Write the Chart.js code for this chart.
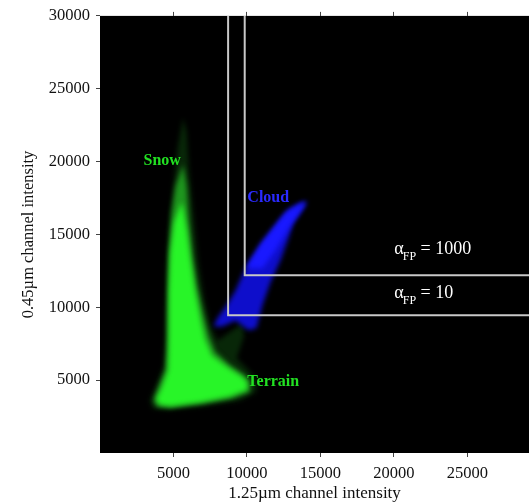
<!DOCTYPE html>
<html>
<head>
<meta charset="utf-8">
<script src="https://cdn.jsdelivr.net/npm/chart.js@4.4.0/dist/chart.umd.min.js"></script>
<style>
  html, body { margin: 0; padding: 0; background: #fff; }
  #wrap { width: 529px; height: 502px; }
</style>
</head>
<body>
<div id="wrap"><canvas id="myChart"></canvas></div>
<script>
// tick labels
var xTicks = [5000, 10000, 15000, 20000, 25000];
var yTicks = [5000, 10000, 15000, 20000, 25000, 30000];

// density outlines, [1.25um, 0.45um]
var snowHalo = [[5650,23000],[5300,21000],[4950,18000],[4650,15000],[4500,12000],[4450,8000],[4350,6000],[3800,4600],[3400,3600],[3600,3050],[4600,2950],[7000,3200],[9500,3600],[10600,4150],[10700,4900],[10200,5600],[9300,6500],[9800,8000],[9700,8900],[9000,8400],[8000,7700],[7500,8800],[7100,10500],[6700,13000],[6400,16000],[6050,19500],[5900,22000],[5650,23000]];
var snowMid = [[5650,19800],[5150,18300],[4880,16500],[4680,13500],[4600,10000],[4550,7000],[4450,5700],[3900,4300],[3650,3600],[3900,3200],[4800,3100],[7000,3400],[9000,3750],[10200,4200],[10200,4950],[9800,5350],[8800,6050],[7850,6950],[7400,8100],[7000,9700],[6600,11500],[6300,13500],[6050,16000],[5900,18300],[5650,19800]];
var snowCore = [[5550,17200],[5050,15800],[4800,13800],[4700,11000],[4700,8000],[4650,5700],[4200,4450],[3850,3700],[4050,3350],[4800,3250],[6800,3500],[8800,3900],[10000,4350],[10000,4850],[9700,5200],[8700,5850],[7600,6700],[7150,7750],[6850,9100],[6450,11200],[6150,13300],[5900,15300],[5650,16800],[5550,17200]];
var cloudOuter = [[14050,17320],[13370,17040],[12820,16700],[12140,15810],[11260,14580],[10370,13350],[9760,12390],[9220,11160],[8610,10130],[7990,9240],[7720,8690],[8330,8690],[9220,9100],[10100,8420],[10650,8560],[11050,10130],[11600,11700],[12280,13210],[12820,14720],[13160,15810],[13640,16500],[14050,17180],[14050,17320]];
var cloudCore = [[13910,17250],[12620,16500],[10920,14380],[9900,12670],[11050,12670],[11940,13900],[12960,15610],[13910,16980],[13910,17250]];

// threshold boxes
var box10 = [[8720,30000],[8720,9450],[29200,9450]];
var box1000 = [[9850,30000],[9850,12200],[29200,12200]];

// text labels [text, x, y, colour]
var regionLabels = [["Snow", 2960, 20050, "#22e022"], ["Cloud", 10030, 17520, "#2a2aff"], ["Terrain", 10030, 4860, "#22e022"]];
var alphaLabels = [["1000", 20030, 13960], ["10", 20030, 10950]];

function pts(a) { return a.map(function (p) { return { x: p[0], y: p[1] }; }); }

function shape(data, color, order) {
  return {
    data: pts(data), showLine: true, pointRadius: 0, tension: 0,
    borderWidth: 0, borderColor: 'transparent', backgroundColor: color,
    fill: 'shape', order: order, blur: true
  };
}
function boxLine(data) {
  return {
    data: pts(data), showLine: true, pointRadius: 0, tension: 0,
    borderWidth: 2, borderColor: '#c8c8c8', fill: false, order: 1
  };
}

var serif = "'Liberation Serif', 'DejaVu Serif', serif";
var plain = function (v) { return String(v); };

var plotLook = {
  id: 'plotLook',
  beforeDraw: function (chart) {
    var a = chart.chartArea, ctx = chart.ctx;
    ctx.save();
    ctx.fillStyle = '#000';
    ctx.fillRect(a.left, a.top, a.right - a.left, a.bottom - a.top);
    ctx.restore();
  },
  beforeDatasetsDraw: function (chart) {
    chart.ctx.filter = 'blur(2.5px)';
  },
  beforeDatasetDraw: function (chart, args) {
    var ds = chart.data.datasets[args.index];
    if (!ds.blur) chart.ctx.filter = 'none';
  },
  afterDatasetsDraw: function (chart) {
    var ctx = chart.ctx, xs = chart.scales.x, ys = chart.scales.y;
    ctx.filter = 'none';
    ctx.save();
    ctx.textBaseline = 'middle';
    ctx.textAlign = 'left';
    regionLabels.forEach(function (l) {
      ctx.font = 'bold 16px ' + serif;
      ctx.fillStyle = l[3];
      ctx.fillText(l[0], xs.getPixelForValue(l[1]), ys.getPixelForValue(l[2]));
    });
    alphaLabels.forEach(function (l) {
      var x = xs.getPixelForValue(l[1]), y = ys.getPixelForValue(l[2]);
      ctx.fillStyle = '#fff';
      ctx.font = '18px ' + serif;
      ctx.fillText('\u03b1', x, y);
      x += ctx.measureText('\u03b1').width;
      ctx.font = '12px ' + serif;
      ctx.fillText('FP', x - 1, y + 7);
      x += ctx.measureText('FP').width - 1;
      ctx.font = '18px ' + serif;
      ctx.fillText(' = ' + l[0], x, y);
    });
    ctx.restore();
  }
};

var ctx = document.getElementById('myChart');

var myChart = new Chart(ctx, {
  type: 'scatter',
  data: {
    datasets: [
      boxLine(box10),
      boxLine(box1000),
      shape(snowHalo, 'rgba(25,120,25,0.32)', 10),
      shape(snowMid, 'rgb(30,150,30)', 9),
      shape(snowCore, 'rgb(40,245,40)', 8),
      shape(cloudOuter, 'rgba(15,15,220,0.92)', 7),
      shape(cloudCore, 'rgb(25,25,255)', 6)
    ]
  },
  plugins: [plotLook],
  options: {
    responsive: true,
    maintainAspectRatio: false,
    animation: false,
    layout: { padding: { left: 0, top: 13, right: 0, bottom: 0 } },
    plugins: { legend: { display: false }, tooltip: { enabled: false } },
    scales: {
      x: {
        type: 'linear', position: 'bottom', min: 0, max: 29200,
        afterBuildTicks: function (s) { s.ticks = xTicks.map(function (v) { return { value: v }; }); },
        afterFit: function (s) { s.height = 49; },
        grid: { drawOnChartArea: false, drawTicks: true, tickLength: 4, color: '#444' },
        border: { display: false },
        ticks: { color: '#111', font: { family: serif, size: 16.5 }, padding: 7, maxRotation: 0, callback: plain },
        title: { display: true, text: '1.25\u00b5m channel intensity', color: '#111', font: { family: serif, size: 17, lineHeight: 1 }, padding: { top: 0, bottom: 0 } }
      },
      x2: {
        type: 'linear', position: 'top', min: 0, max: 29200,
        afterBuildTicks: function (s) { s.ticks = xTicks.map(function (v) { return { value: v }; }); },
        afterFit: function (s) { s.height = 0; },
        grid: { drawOnChartArea: false, drawTicks: true, tickLength: 4, color: '#444' },
        border: { display: false },
        ticks: { display: false }
      },
      y: {
        type: 'linear', min: 0, max: 30000,
        afterBuildTicks: function (s) { s.ticks = yTicks.map(function (v) { return { value: v }; }); },
        afterFit: function (s) { s.width = 100; },
        grid: { drawOnChartArea: false, drawTicks: true, tickLength: 4, color: '#444' },
        border: { display: false },
        ticks: { color: '#111', font: { family: serif, size: 16.5 }, padding: 6, callback: plain },
        title: { display: true, text: '0.45\u00b5m channel intensity', color: '#111', font: { family: serif, size: 16.5 }, padding: { top: 19, bottom: 0 } }
      }
    }
  }
});
</script>
</body>
</html>
